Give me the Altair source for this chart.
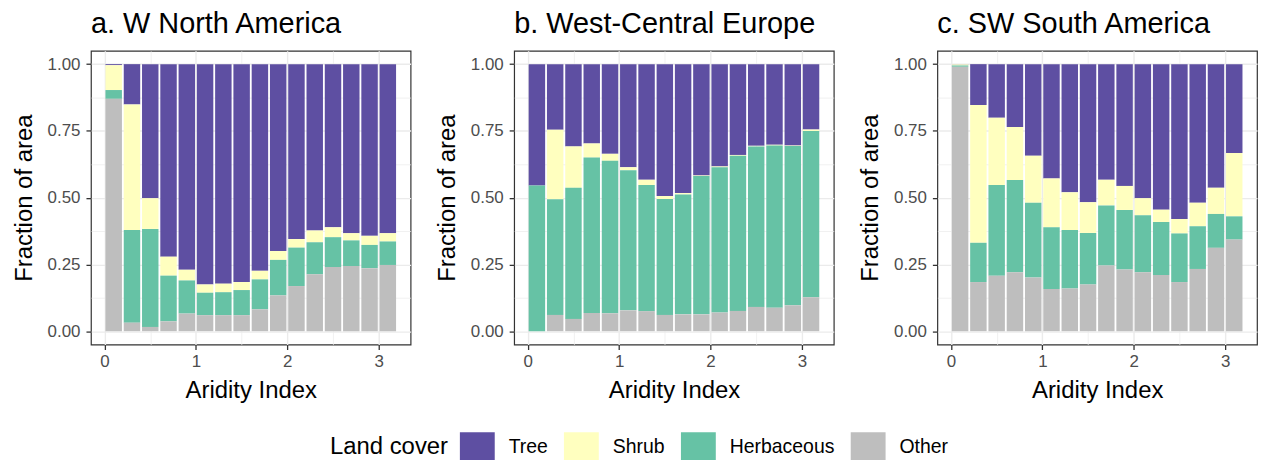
import altair as alt
import pandas as pd

regions = ["a. W North America", "b. West-Central Europe", "c. SW South America"]
aridity_mid = [0.1, 0.3, 0.5, 0.7, 0.9, 1.1, 1.3, 1.5, 1.7, 1.9, 2.1, 2.3, 2.5, 2.7, 2.9, 3.1]
land_cover = ["Tree", "Shrub", "Herbaceous", "Other"]
cover_colors = ["#5E4FA2", "#FFFFBF", "#66C2A5", "#BEBEBE"]
stack_order = {"Other": 0, "Herbaceous": 1, "Shrub": 2, "Tree": 3}

# a. W North America
wna_tree = [0.004, 0.151, 0.502, 0.721, 0.770, 0.825, 0.822, 0.816, 0.774, 0.700, 0.655, 0.623, 0.611, 0.633, 0.643, 0.633]
wna_shrub = [0.093, 0.470, 0.115, 0.071, 0.040, 0.031, 0.032, 0.030, 0.032, 0.033, 0.032, 0.044, 0.037, 0.027, 0.034, 0.031]
wna_herb = [0.033, 0.347, 0.367, 0.171, 0.124, 0.084, 0.086, 0.094, 0.112, 0.133, 0.144, 0.120, 0.112, 0.096, 0.087, 0.088]
wna_other = [0.870, 0.032, 0.016, 0.037, 0.066, 0.060, 0.060, 0.060, 0.082, 0.134, 0.169, 0.213, 0.240, 0.244, 0.236, 0.248]

# b. West-Central Europe
wce_tree = [0.454, 0.246, 0.308, 0.297, 0.336, 0.386, 0.433, 0.494, 0.483, 0.417, 0.383, 0.340, 0.306, 0.302, 0.305, 0.245]
wce_shrub = [0.000, 0.260, 0.155, 0.053, 0.026, 0.011, 0.020, 0.011, 0.005, 0.002, 0.003, 0.003, 0.002, 0.003, 0.002, 0.005]
wce_herb = [0.546, 0.433, 0.491, 0.582, 0.571, 0.525, 0.472, 0.434, 0.449, 0.518, 0.544, 0.581, 0.601, 0.607, 0.596, 0.623]
wce_other = [0.000, 0.061, 0.046, 0.068, 0.067, 0.078, 0.075, 0.061, 0.063, 0.063, 0.070, 0.076, 0.091, 0.088, 0.097, 0.127]

# c. SW South America
ssa_tree = [0.001, 0.153, 0.201, 0.235, 0.343, 0.428, 0.480, 0.517, 0.433, 0.456, 0.502, 0.545, 0.580, 0.519, 0.463, 0.333]
ssa_shrub = [0.004, 0.516, 0.252, 0.199, 0.176, 0.183, 0.141, 0.115, 0.096, 0.090, 0.064, 0.046, 0.054, 0.088, 0.098, 0.237]
ssa_herb = [0.005, 0.147, 0.339, 0.345, 0.280, 0.231, 0.219, 0.193, 0.225, 0.223, 0.213, 0.199, 0.182, 0.160, 0.127, 0.087]
ssa_other = [0.990, 0.184, 0.208, 0.221, 0.201, 0.158, 0.160, 0.175, 0.246, 0.231, 0.221, 0.210, 0.184, 0.233, 0.312, 0.343]

series = {
    regions[0]: {"Tree": wna_tree, "Shrub": wna_shrub, "Herbaceous": wna_herb, "Other": wna_other},
    regions[1]: {"Tree": wce_tree, "Shrub": wce_shrub, "Herbaceous": wce_herb, "Other": wce_other},
    regions[2]: {"Tree": ssa_tree, "Shrub": ssa_shrub, "Herbaceous": ssa_herb, "Other": ssa_other},
}

rows = []
for reg, d in series.items():
    for cov, vals in d.items():
        for ai, v in zip(aridity_mid, vals):
            rows.append({"region": reg, "ai": ai, "cover": cov, "frac": v, "ord": stack_order[cov]})
df = pd.DataFrame(rows)

FONT = "Liberation Sans"
half_w = 0.09

x_axis = alt.Axis(
    values=[0, 0.5, 1, 1.5, 2, 2.5, 3],
    labelExpr="datum.value % 1 === 0 ? format(datum.value, 'd') : ''",
    domain=False,
    tickSize=5,
    tickWidth=1.3,
    tickColor={"condition": {"test": "datum.value % 1 !== 0", "value": "transparent"}, "value": "#333333"},
    gridColor="#EBEBEB",
    gridWidth={"condition": {"test": "datum.value % 1 !== 0", "value": 0.7}, "value": 1.4},
    labelFontSize=17,
    labelColor="#4D4D4D",
    labelPadding=4.5,
    labelFont=FONT,
    titleFont=FONT,
    titleFontSize=24,
    titleFontWeight="normal",
    titleColor="#000000",
    titlePadding=7.8,
    minExtent=26.5,
    maxExtent=26.5,
    labelFlush=False,
    labelOverlap=False,
)

y_axis = alt.Axis(
    values=[0, 0.125, 0.25, 0.375, 0.5, 0.625, 0.75, 0.875, 1.0],
    labelExpr="(datum.value * 4) % 1 === 0 ? format(datum.value, '.2f') : ''",
    domain=False,
    tickSize=5,
    tickWidth=1.3,
    tickColor={"condition": {"test": "(datum.value * 4) % 1 !== 0", "value": "transparent"}, "value": "#333333"},
    gridColor="#EBEBEB",
    gridWidth={"condition": {"test": "(datum.value * 4) % 1 !== 0", "value": 0.7}, "value": 1.4},
    labelFontSize=17,
    labelColor="#4D4D4D",
    labelPadding=6,
    labelFont=FONT,
    titleFont=FONT,
    titleFontSize=24,
    titleFontWeight="normal",
    titleColor="#000000",
    titlePadding=11,
    minExtent=44,
    maxExtent=44,
    labelFlush=False,
    labelOverlap=False,
)

legend = alt.Legend(
    orient="none",
    legendX=240,
    legendY=383,
    direction="horizontal",
    title="Land cover",
    titleOrient="left",
    titleFont=FONT,
    titleFontSize=24,
    titleFontWeight="normal",
    titleColor="#000000",
    titlePadding=14,
    labelFont=FONT,
    labelFontSize=19.5,
    labelColor="#000000",
    labelOffset=16.5,
    columnPadding=15.5,
    symbolType="M-1.1667,-1H1.1667V1H-1.1667Z",
    symbolSize=900,
    symbolStrokeWidth=0,
    symbolOpacity=1,
)

panels = []
for reg in regions:
    p = (
        alt.Chart(df)
        .transform_filter(alt.datum.region == reg)
        .transform_stack(stack="frac", groupby=["region", "ai"], as_=["y0", "y1"],
                         sort=[alt.SortField("ord", order="ascending")])
        .transform_calculate(x0=f"datum.ai - {half_w}", x1=f"datum.ai + {half_w}")
        .mark_bar(strokeWidth=0)
        .encode(
            x=alt.X("x0:Q", scale=alt.Scale(domain=[-0.149, 3.349], nice=False, zero=False),
                    axis=x_axis, title="Aridity Index"),
            x2="x1:Q",
            y=alt.Y("y0:Q", scale=alt.Scale(domain=[-0.05, 1.05], nice=False, zero=False),
                    axis=y_axis, title="Fraction of area"),
            y2="y1:Q",
            color=alt.Color("cover:N", scale=alt.Scale(domain=land_cover, range=cover_colors),
                            legend=legend),
        )
        .properties(
            width=321,
            height=295,
            title=alt.TitleParams(reg, anchor="start", frame="group", fontSize=29, font=FONT,
                                  fontWeight="normal", color="#000000", offset=12),
        )
    )
    panels.append(p)

chart = (
    alt.hconcat(*panels, spacing=23)
    .properties(padding={"left": 3.3, "top": 0, "right": 0, "bottom": 0})
    .configure(font=FONT, background="white")
    .configure_view(stroke="#333333", strokeWidth=1.2)
)

chart.save("out.html", embed_options={"renderer": "svg", "actions": False})
